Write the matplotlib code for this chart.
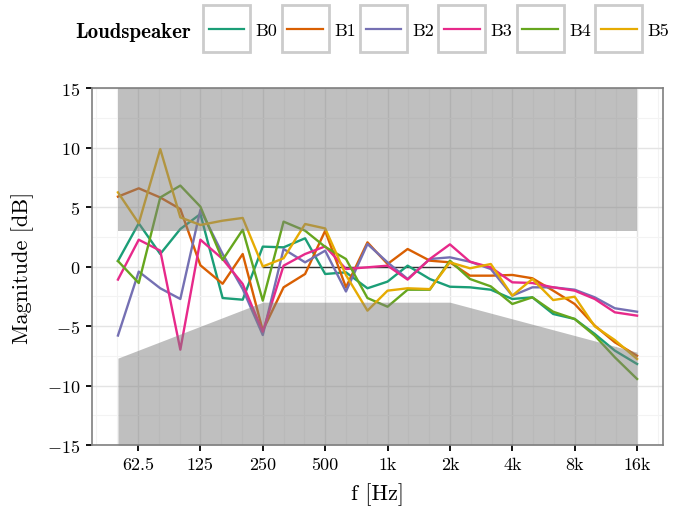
import matplotlib
matplotlib.use('Agg')
import matplotlib.pyplot as plt
from matplotlib.legend_handler import HandlerLine2D
from matplotlib.patches import Rectangle
from matplotlib.lines import Line2D
from matplotlib.ticker import NullFormatter
import numpy as np

plt.rcParams['font.family'] = 'cmr10'
plt.rcParams['mathtext.fontset'] = 'cm'
plt.rcParams['axes.formatter.use_mathtext'] = True

# third-octave band centres
freqs = [50, 63, 80, 100, 125, 160, 200, 250, 315, 400, 500, 630, 800,
         1000, 1250, 1600, 2000, 2500, 3150, 4000, 5000, 6300, 8000,
         10000, 12500, 16000]

B0 = [0.46, 3.63, 1.05, 3.15, 4.41, -2.65, -2.79, 1.67, 1.61, 2.37, -0.63,
      -0.49, -1.83, -1.27, 0.07, -1.05, -1.70, -1.75, -1.95, -2.73, -2.59,
      -3.99, -4.41, -5.67, -7.07, -8.19]
B1 = [5.87, 6.57, 5.80, 4.83, 0.10, -1.45, 1.05, -5.39, -1.75, -0.63, 3.00,
      -1.75, 2.03, 0.21, 1.47, 0.49, 0.35, -0.77, -0.77, -0.71, -0.99,
      -2.03, -3.15, -4.97, -6.37, -7.50]
B2 = [-5.80, -0.43, -1.83, -2.73, 4.77, 1.05, -1.89, -5.76, 1.47, 0.35, 1.33,
      -2.10, 1.89, 0.35, -1.05, 0.63, 0.77, 0.40, -0.21, -2.45, -1.75,
      -1.75, -1.95, -2.59, -3.51, -3.80]
B3 = [-1.10, 2.25, 1.33, -6.99, 2.25, 0.63, -1.47, -5.48, 0.07, 1.05, 1.69,
      -0.21, -0.07, 0.07, -1.10, 0.63, 1.86, 0.40, -0.07, -1.33, -1.39,
      -1.75, -2.03, -2.73, -3.85, -4.13]
B4 = [0.46, -1.39, 5.80, 6.80, 5.03, 0.55, 3.09, -2.87, 3.77, 3.01, 1.65,
      0.63, -2.65, -3.38, -1.95, -1.95, 0.49, -1.05, -1.67, -3.15, -2.59,
      -3.80, -4.41, -5.81, -7.63, -9.45]
B5 = [6.23, 3.63, 9.87, 4.13, 3.49, 3.85, 4.08, 0.00, 0.69, 3.57, 3.20,
      -0.72, -3.71, -2.03, -1.83, -1.90, 0.35, -0.15, 0.21, -2.45, -1.05,
      -2.82, -2.54, -5.03, -6.18, -7.77]

speakers = ['B0', 'B1', 'B2', 'B3', 'B4', 'B5']
responses = [B0, B1, B2, B3, B4, B5]
palette = ['#1b9e77', '#d95f02', '#7570b3', '#e7298a', '#66a61e', '#e6ab02']

# tolerance mask
mask_upper = 3
mask_f = [50, 250, 2000, 16000]
mask_lower = [-7.7, -3, -3, -7.2]
target_f = [250, 2000]

octave_ticks = [62.5, 125, 250, 500, 1000, 2000, 4000, 8000, 16000]
octave_labels = ['62.5', '125', '250', '500', '1k', '2k', '4k', '8k', '16k']


class BoxedLineHandler(HandlerLine2D):
    # legend key drawn as a line inside a light grey square
    def create_artists(self, legend, orig_handle, xdescent, ydescent,
                       width, height, fontsize, trans):
        box_h = 34
        yc = height / 2 - ydescent
        box = Rectangle((-xdescent, yc - box_h / 2), width, box_h,
                        facecolor='white', edgecolor='#cccccc', lw=2.0,
                        transform=trans)
        inset = width * 0.12
        line = Line2D([-xdescent + inset, -xdescent + width - inset], [yc, yc],
                      color=orig_handle.get_color(), lw=1.6, transform=trans)
        return [box, line]


fig = plt.figure(figsize=(6.8, 5.1), dpi=100)
ax = fig.add_axes([92 / 680, 64 / 510, 571 / 680, 357 / 510])

ax.plot(target_f, [0, 0], color='#333333', lw=1.0, zorder=2)

handles = []
for name, vals, c in zip(speakers, responses, palette):
    h, = ax.plot(freqs, vals, color=c, lw=1.7, label=name, zorder=3)
    handles.append(h)

ax.fill_between([freqs[0], freqs[-1]], mask_upper, 15, color='#808080',
                alpha=0.5, lw=0, zorder=5)
ax.fill_between(mask_f, -15, mask_lower, color='#808080', alpha=0.5,
                lw=0, zorder=5)

ax.set_xscale('log')
pad = 2 ** 0.416
ax.set_xlim(freqs[0] / pad, freqs[-1] * pad)
ax.set_ylim(-15, 15)
ax.set_xticks(octave_ticks)
ax.set_xticklabels(octave_labels)
thirds = [f * 2 ** (k / 3) for f in octave_ticks[:-1] for k in (1, 2)]
thirds = [62.5 * 2 ** (-2 / 3), 62.5 * 2 ** (-1 / 3)] + thirds + [16000 * 2 ** (1 / 3)]
ax.set_xticks(thirds, minor=True)
ax.xaxis.set_minor_formatter(NullFormatter())
ax.set_yticks([-15, -10, -5, 0, 5, 10, 15])
ax.set_yticks([-12.5, -7.5, -2.5, 2.5, 7.5, 12.5], minor=True)

ax.grid(which='major', color='#e4e4e4', lw=1.0)
ax.grid(which='minor', color='#f3f3f3', lw=0.8)
ax.set_axisbelow(True)

for s in ax.spines.values():
    s.set_color('#7f7f7f')
    s.set_linewidth(1.2)
ax.tick_params(which='major', direction='out', length=4.5, width=1.3,
               color='black', labelsize=13, pad=4)
ax.tick_params(which='minor', length=0)

ax.set_xlabel('f [Hz]', fontsize=16, labelpad=7)
ax.set_ylabel('Magnitude [dB]', fontsize=16, labelpad=9)

ax.legend(handles=handles, loc='center left',
          bbox_to_anchor=(203 / 680, 1 - 31 / 510),
          bbox_transform=fig.transFigure, ncol=6, frameon=False,
          handlelength=2.6, handletextpad=0.3, columnspacing=0.24,
          borderpad=0, borderaxespad=0, fontsize=13,
          handler_map={Line2D: BoxedLineHandler()})
fig.text(191 / 680, 1 - 32 / 510, 'Loudspeaker', family='cmb10',
         fontsize=15, ha='right', va='center')

fig.savefig('out.png', dpi=100)
